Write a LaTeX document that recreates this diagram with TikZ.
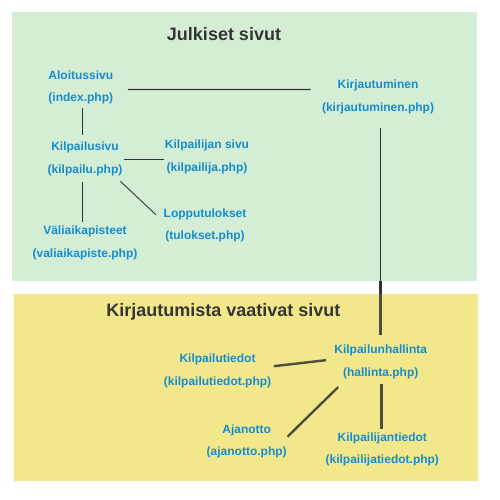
\documentclass[tikz,border=0pt]{standalone}
\usepackage{fontspec}
\setmainfont{Liberation Sans}
\definecolor{greenbg}{HTML}{D4EED6}
\definecolor{yellowbg}{HTML}{F2E88B}
\definecolor{linkblue}{HTML}{168CCE}
\definecolor{titlegray}{HTML}{353535}
\definecolor{linedark}{HTML}{333333}
\definecolor{linethick}{HTML}{4E4D40}
\newcommand{\toprule}{\rule{0pt}{11pt}}
\newcommand{\botrule}{\rule[-4pt]{0pt}{4pt}}
\tikzset{
  page/.style={anchor=north, inner sep=0pt, align=center, text=linkblue,
    font=\fontsize{12}{22.5}\selectfont\bfseries},
  heading/.style={anchor=base, inner sep=0pt, text=titlegray,
    font=\fontsize{18}{22}\selectfont\bfseries},
  thinlink/.style={draw=linedark, line width=1.3pt},
  hairlink/.style={draw=linedark, line width=0.9pt},
  thicklink/.style={draw=linethick, line width=2.4pt},
  gaplink/.style={draw=linedark, line width=3pt}
}
\begin{document}
\begin{tikzpicture}[x=1pt,y=-1pt]
\useasboundingbox (0,0) rectangle (500,500);
% panels
\fill[greenbg] (12,12) rectangle (477,281);
\fill[yellowbg] (14,294) rectangle (478,481);
% headings
\node[heading] (h1) at (224,40.7) {Julkiset sivut};
\node[heading] (h2) at (223.3,316.7) {Kirjautumista vaativat sivut};
% public pages
\node[page] (alo) at (80.8,68) {\toprule Aloitussivu\\(index.php)\botrule};
\node[page] (kirj) at (378,77.3) {\toprule Kirjautuminen\\(kirjautuminen.php)\botrule};
\node[page] (kilp) at (85,139.3) {\toprule Kilpailusivu\\(kilpailu.php)\botrule};
\node[page] (kilpj) at (207,137.3) {\toprule Kilpailijan sivu\\(kilpailija.php)\botrule};
\node[page] (lopp) at (205,206) {\toprule Lopputulokset\\(tulokset.php)\botrule};
\node[page] (vali) at (85,223.3) {\toprule Väliaikapisteet\\(valiaikapiste.php)\botrule};
% login pages
\node[page] (hall) at (380.7,342.6) {\toprule Kilpailunhallinta\\(hallinta.php)\botrule};
\node[page] (ktied) at (217.5,351.3) {\toprule Kilpailutiedot\\(kilpailutiedot.php)\botrule};
\node[page] (ajan) at (246.7,422) {\toprule Ajanotto\\(ajanotto.php)\botrule};
\node[page] (kjt) at (382.3,430) {\toprule Kilpailijantiedot\\(kilpailijatiedot.php)\botrule};
% connectors
\draw[thinlink] ([shift={(14.5,2.5)}]alo.east) -- ([shift={(-11.3,-6.75)}]kirj.west);
\draw[thinlink] ([shift={(1.5,1.8)}]alo.south) -- ([shift={(-2.7,-4.3)}]kilp.north);
\draw[thinlink] ([shift={(1.7,1.25)}]kilp.east) -- ([shift={(-0.3,3.25)}]kilpj.west);
\draw[hairlink] ([shift={(-2,4.2)}]kilp.south east) -- ([shift={(-7.6,8.7)}]lopp.north west);
\draw[thinlink] ([shift={(-2.7,4.9)}]kilp.south) -- ([shift={(-2.7,-1.3)}]vali.north);
\draw[thinlink] ([shift={(2.3,12.5)}]kirj.south) -- ([shift={(-0.4,-7.3)}]hall.north);
\coordinate (gaptop) at (380.3,281);
\coordinate (gapbot) at (380.3,294);
\draw[gaplink] (gaptop) -- (gapbot);
\draw[thicklink] (gapbot) -- ([shift={(-0.4,-7.3)}]hall.north);
\draw[thicklink] ([shift={(2.5,-4.05)}]ktied.east) -- ([shift={(-8.3,-1.35)}]hall.west);
\draw[thicklink] ([shift={(0.6,14.7)}]ajan.north east) -- ([shift={(4,6.6)}]hall.south west);
\draw[thicklink] ([shift={(0.6,3.2)}]hall.south) -- ([shift={(-1,-0.7)}]kjt.north);
\end{tikzpicture}
\end{document}
